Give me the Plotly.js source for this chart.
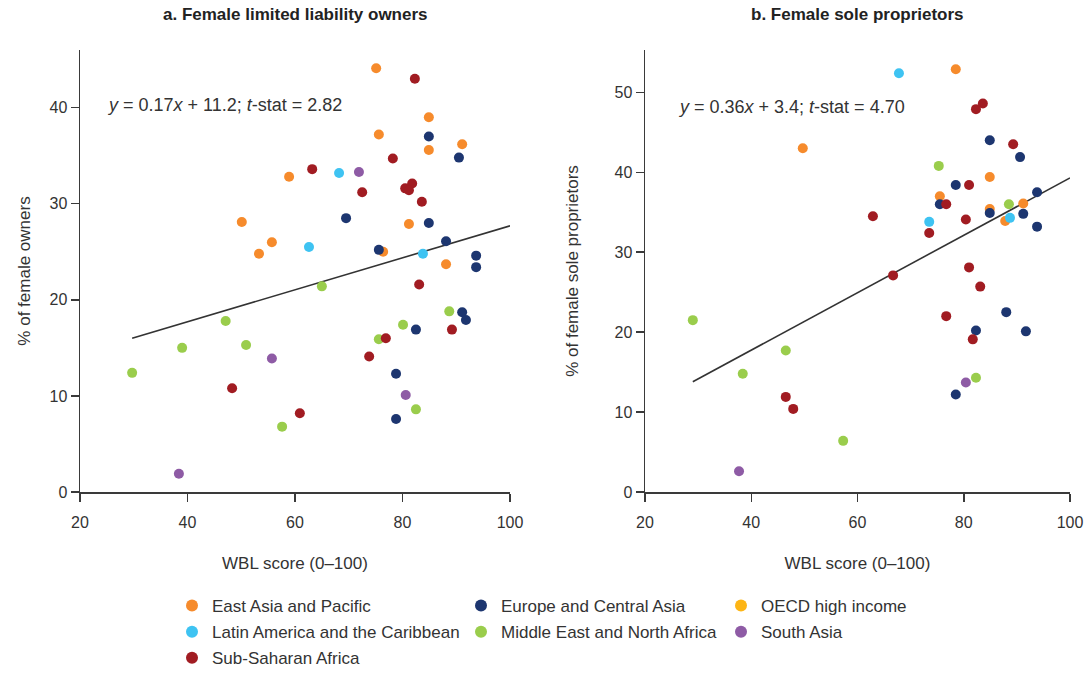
<!DOCTYPE html>
<html>
<head>
<meta charset="utf-8">
<script src="https://cdn.plot.ly/plotly-3.0.1.min.js"></script>
<style>html,body{margin:0;padding:0;background:#fff;}#chart{width:1084px;height:683px;}</style>
</head>
<body>
<div id="chart"></div>
<script>
// ---------- Data ----------
const regionNames = ["East Asia and Pacific", "Europe and Central Asia", "OECD high income",
  "Latin America and the Caribbean", "Middle East and North Africa", "South Asia", "Sub-Saharan Africa"];

// Panel a: Female limited liability owners (x = WBL score, y = % of female owners)
const a_eap_x = [75.1, 84.9, 75.6, 91.1, 84.9, 58.9, 50.1, 81.2, 55.7, 53.3, 76.4, 88.1];
const a_eap_y = [44.1, 39.0, 37.2, 36.2, 35.6, 32.8, 28.1, 27.9, 26.0, 24.8, 25.0, 23.7];
const a_eca_x = [84.9, 90.5, 69.5, 84.9, 88.1, 75.6, 93.7, 93.7, 91.1, 91.8, 82.5, 78.8, 78.8];
const a_eca_y = [37.0, 34.8, 28.5, 28.0, 26.1, 25.2, 24.6, 23.4, 18.7, 17.9, 16.9, 12.3, 7.6];
const a_oecd_x = [null];
const a_oecd_y = [null];
const a_lac_x = [68.2, 62.6, 83.8];
const a_lac_y = [33.2, 25.5, 24.8];
const a_mena_x = [65.0, 88.7, 80.1, 75.6, 47.1, 39.0, 50.9, 29.7, 57.6, 82.5];
const a_mena_y = [21.4, 18.8, 17.4, 15.9, 17.8, 15.0, 15.3, 12.4, 6.8, 8.6];
const a_sa_x = [71.9, 55.7, 80.6, 38.4];
const a_sa_y = [33.3, 13.9, 10.1, 1.9];
const a_ssa_x = [82.3, 78.2, 63.2, 81.8, 80.5, 81.2, 72.5, 83.6, 83.1, 89.2, 76.9, 73.8, 48.3, 60.9];
const a_ssa_y = [43.0, 34.7, 33.6, 32.1, 31.6, 31.4, 31.2, 30.2, 21.6, 16.9, 16.0, 14.1, 10.8, 8.2];
const a_fit_x = [29.7, 100];
const a_fit_y = [16.0, 27.7];

// Panel b: Female sole proprietors
const b_eap_x = [49.7, 78.5, 84.9, 75.5, 91.2, 84.9, 87.8];
const b_eap_y = [43.0, 52.9, 39.4, 37.0, 36.1, 35.4, 33.9];
const b_eca_x = [84.9, 90.6, 78.5, 93.8, 75.5, 84.9, 91.2, 93.8, 88.0, 82.3, 91.7, 78.5];
const b_eca_y = [44.0, 41.9, 38.4, 37.5, 36.0, 34.9, 34.8, 33.2, 22.5, 20.2, 20.1, 12.2];
const b_oecd_x = [null];
const b_oecd_y = [null];
const b_lac_x = [67.8, 73.5, 88.7];
const b_lac_y = [52.4, 33.8, 34.3];
const b_mena_x = [75.3, 88.5, 29.0, 46.5, 38.4, 57.3, 82.3];
const b_mena_y = [40.8, 36.0, 21.5, 17.7, 14.8, 6.4, 14.3];
const b_sa_x = [80.4, 37.7];
const b_sa_y = [13.7, 2.6];
const b_ssa_x = [83.6, 82.3, 89.3, 81.0, 76.7, 80.4, 73.5, 62.9, 81.0, 66.7, 83.1, 76.7, 81.7, 46.5, 47.9];
const b_ssa_y = [48.6, 47.9, 43.5, 38.4, 36.0, 34.1, 32.4, 34.5, 28.1, 27.1, 25.7, 22.0, 19.1, 11.9, 10.4];
const b_fit_x = [29.0, 100];
const b_fit_y = [13.8, 39.3];

const xTicks = [20, 40, 60, 80, 100];
const titleA = "a. Female limited liability owners";
const titleB = "b. Female sole proprietors";
const eqA = "<i>y</i> = 0.17<i>x</i> + 11.2; <i>t</i>-stat = 2.82";
const eqB = "<i>y</i> = 0.36<i>x</i> + 3.4; <i>t</i>-stat = 4.70";
const xTitle = "WBL score (0–100)";
const yTitleA = "% of female owners";
const yTitleB = "% of female sole proprietors";

// ---------- Styles ----------
const FONT = "Liberation Sans, Arial, sans-serif";
const regionColors = ["#F68B2C", "#1D3670", "#FDB515", "#3EC3F2", "#9ACD4C", "#8E5BA5", "#A11C22"];
const legendOf = ["legend", "legend2", "legend3", "legend", "legend2", "legend3", "legend"];

const aSets = [[a_eap_x, a_eap_y], [a_eca_x, a_eca_y], [a_oecd_x, a_oecd_y], [a_lac_x, a_lac_y],
  [a_mena_x, a_mena_y], [a_sa_x, a_sa_y], [a_ssa_x, a_ssa_y]];
const bSets = [[b_eap_x, b_eap_y], [b_eca_x, b_eca_y], [b_oecd_x, b_oecd_y], [b_lac_x, b_lac_y],
  [b_mena_x, b_mena_y], [b_sa_x, b_sa_y], [b_ssa_x, b_ssa_y]];

const traces = [];
traces.push({x: a_fit_x, y: a_fit_y, mode: "lines", xaxis: "x", yaxis: "y", showlegend: false,
  line: {color: "#333", width: 1.6}, hoverinfo: "skip"});
traces.push({x: b_fit_x, y: b_fit_y, mode: "lines", xaxis: "x2", yaxis: "y2", showlegend: false,
  line: {color: "#333", width: 1.6}, hoverinfo: "skip"});
regionNames.forEach((name, i) => {
  traces.push({x: aSets[i][0], y: aSets[i][1], mode: "markers", type: "scatter", name: name,
    xaxis: "x", yaxis: "y", legend: legendOf[i], showlegend: true, legendgroup: name,
    marker: {color: regionColors[i], size: 10}});
  traces.push({x: bSets[i][0], y: bSets[i][1], mode: "markers", type: "scatter", name: name,
    xaxis: "x2", yaxis: "y2", showlegend: false, legendgroup: name,
    marker: {color: regionColors[i], size: 10}});
});

const W = 1084, H = 683;
const axisCommon = {
  showline: true, linecolor: "#3a3a3a", linewidth: 1.5, ticks: "outside", ticklen: 8,
  tickcolor: "#3a3a3a", tickwidth: 1.5, showgrid: false, zeroline: false,
  tickfont: {family: FONT, size: 16, color: "#333"}, fixedrange: true, automargin: false
};
const titleFont = {family: FONT, size: 17, color: "#333"};
const yDomain = [1 - 492 / H, 1 - 50 / H];
const legendCommon = {
  orientation: "v", bgcolor: "rgba(0,0,0,0)", borderwidth: 0, tracegroupgap: 1,
  font: {family: FONT, size: 17, color: "#333"}, xanchor: "left", yanchor: "top",
  itemwidth: 30, itemsizing: "constant"
};

const layout = {
  width: W, height: H,
  margin: {l: 0, r: 0, t: 0, b: 0},
  paper_bgcolor: "#fff", plot_bgcolor: "#fff",
  font: {family: FONT, color: "#333"},
  xaxis: Object.assign({}, axisCommon, {domain: [80 / W, 510 / W], range: [20, 100], tickvals: xTicks,
    anchor: "y", ticklabelstandoff: 7,
    title: {text: xTitle, font: titleFont, standoff: 27}}),
  yaxis: Object.assign({}, axisCommon, {domain: yDomain, range: [0, 46], dtick: 10, anchor: "x",
    title: {text: yTitleA, font: titleFont, standoff: 14}}),
  xaxis2: Object.assign({}, axisCommon, {domain: [645 / W, 1070 / W], range: [20, 100], tickvals: xTicks,
    anchor: "y2", ticklabelstandoff: 7,
    title: {text: xTitle, font: titleFont, standoff: 27}}),
  yaxis2: Object.assign({}, axisCommon, {domain: yDomain, range: [0, 55.3], dtick: 10, anchor: "x2",
    title: {text: yTitleB, font: titleFont, standoff: 31}}),
  legend: Object.assign({}, legendCommon, {x: 172 / W, y: 1 - 588 / H}),
  legend2: Object.assign({}, legendCommon, {x: 461 / W, y: 1 - 588 / H}),
  legend3: Object.assign({}, legendCommon, {x: 721 / W, y: 1 - 588 / H}),
  annotations: [
    {text: "<b>" + titleA + "</b>", xref: "paper", yref: "paper", x: 295 / W, y: 1 - 15 / H,
      xanchor: "center", yanchor: "middle", showarrow: false, font: {family: FONT, size: 17, color: "#222"}},
    {text: "<b>" + titleB + "</b>", xref: "paper", yref: "paper", x: 857 / W, y: 1 - 15 / H,
      xanchor: "center", yanchor: "middle", showarrow: false, font: {family: FONT, size: 17, color: "#222"}},
    {text: eqA, xref: "paper", yref: "paper", x: 105 / W, y: 1 - 105 / H,
      xanchor: "left", yanchor: "middle", showarrow: false, font: {family: FONT, size: 18, color: "#333"}},
    {text: eqB, xref: "paper", yref: "paper", x: 676 / W, y: 1 - 107 / H,
      xanchor: "left", yanchor: "middle", showarrow: false, font: {family: FONT, size: 18, color: "#333"}}
  ]
};

Plotly.newPlot("chart", traces, layout, {staticPlot: true, displayModeBar: false});
</script>
</body>
</html>
